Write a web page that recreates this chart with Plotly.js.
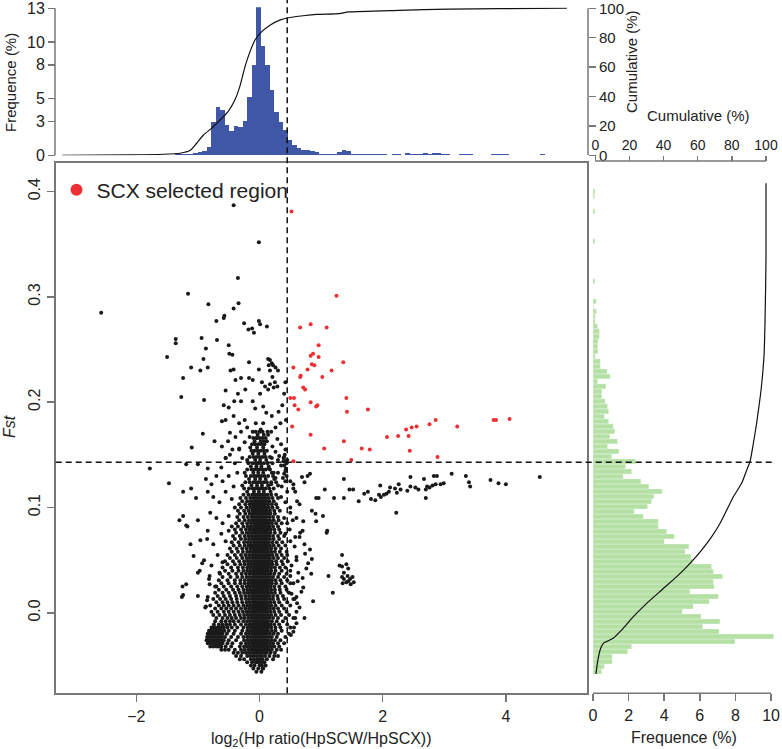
<!DOCTYPE html>
<html><head><meta charset="utf-8">
<script src="https://cdn.plot.ly/plotly-3.0.1.min.js"></script>
<style>body{margin:0;background:#fff}#chart{width:782px;height:749px}</style>
</head><body><div id="chart"></div>
<script>
// ---------------- DATA ----------------
// Top histogram of log2(Hp ratio): bins start, bin width, frequency (%) per bin
const topBinStart = -3.2;
const topBinWidth = 0.0732;
const topFreq = [0,0,0,0,0,0,0,0,0.03,0,0,0,0,0,0,0,0,0.03,0,0.03,0,0.03,0,0.06,
 0.06,0.09,0.12,0.12,0.15,0.2,0.25,0.35,0.7,2.9,4.23,4.0,2.68,2.18,2.6,2.5,3.0,5.18,7.97,13.08,
 9.66,7.97,5.76,3.85,2.9,2.2,1.36,0.9,0.65,0.5,0.45,0.38,0.25,0.15,0.12,0.1,0.1,0.3,0.45,0.4,
 0.15,0.1,0.08,0.1,0.15,0.1,0.15,0.08,0.05,0.08,0.08,0.05,0.2,0.15,0.15,0.1,0.2,0.15,0.2,0.2,
 0.1,0.08,0.05,0.05,0.1,0.1,0.08,0.03,0.03,0.03,0.03,0.1,0.1,0.08,0.1,0.05,0.03,0,0.03,0,0.03,0,
 0.08,0,0,0,0,0];
// Top cumulative curve (%)
const topCumX = [-3.20,-2.10,-1.56,-1.29,-1.13,-1.02,-0.91,-0.78,-0.64,-0.51,-0.40,-0.32,-0.235,-0.154,-0.073,0.036,0.17,0.33,0.495,0.71,0.93,1.29,1.45,2.26,3.08,3.89,4.99];
const topCumY = [0,0.3,0.7,1.4,3.2,8.2,13.8,18.3,24,29.7,37.6,46.7,60.3,70.5,78.4,84.1,88.5,91.9,93.7,94.9,95.8,96.4,97.5,98.6,99.4,99.7,100];

// Right histogram of Fst
const rightBinStart = -0.0581;
const rightBinWidth = 0.00475;
const rightFreq = [0.49,0.63,1.08,1.08,1.95,2.17,7.98,10.15,7.08,6.16,7.13,6.07,5.02,5.63,6.53,7.04,5.45,6.81,6.76,7.28,
 6.76,6.66,5.6,5.5,5.17,5.39,4.0,4.57,4.14,3.67,3.67,2.83,2.32,3.07,3.29,3.42,3.89,3.14,2.69,1.7,
 2.17,1.83,2.4,1.05,1.46,0.82,1.38,0.95,1.23,1.14,0.88,0.64,0.88,0.82,0.69,0.5,0.5,0.73,0.26,0.97,
 0.79,0.41,0.41,0.13,0.28,0.26,0.28,0.36,0.36,0.26,0.13,0.13,0.19,0.04,0.19,0,0,0,0.11,0,
 0,0,0,0,0,0,0.11,0,0,0,0,0,0.11,0,0,0.09,0.11,0];
// Right cumulative curve
const rightCumFst = [-0.0581,-0.048,-0.0353,-0.029,-0.0242,-0.0163,-0.0037,0.009,0.0217,0.0343,0.047,0.0596,0.0723,0.085,0.0976,0.110,0.123,0.1356,0.1435,0.161,0.180,0.199,0.2116,0.2432,0.275,0.338,0.408];
const rightCumPct = [0.4,1.2,2.8,4.7,10.5,15.5,22.3,30.1,38.9,47.7,55.5,62.3,68.2,73.1,77,80.8,85.7,88.7,90.6,92.6,94.5,96.1,97.1,98.8,99.4,100,100];

// Thresholds
const hpCut = 0.45;
const fstCut = 0.143;

// SCX selected region (red) points [log2 ratio, Fst]
const redPts = [[0.52,0.381],[1.25,0.301],[0.66,0.271],[0.83,0.274],[1.09,0.271],[0.96,0.254],[0.87,0.246],[0.83,0.244],
 [0.96,0.243],[1.36,0.238],[0.85,0.236],[0.89,0.235],[0.55,0.233],[0.78,0.231],[1.17,0.230],[0.67,0.225],[0.66,0.224],
 [1.02,0.224],[0.71,0.214],[0.74,0.212],[0.50,0.204],[0.56,0.204],[1.41,0.204],[0.83,0.200],[0.94,0.197],[0.92,0.196],
 [0.57,0.197],[0.63,0.193],[1.42,0.191],[1.76,0.193],[0.53,0.177],[2.86,0.183],[2.76,0.179],[2.55,0.177],[2.47,0.176],
 [2.38,0.174],[3.21,0.177],[3.80,0.183],[3.84,0.183],[4.06,0.184],[2.25,0.168],[2.07,0.167],[2.42,0.168],[0.83,0.169],
 [1.37,0.163],[1.05,0.156],[1.66,0.156],[1.79,0.155],[2.44,0.154],[1.49,0.145],[2.89,0.148],[0.55,0.144]];

// Dense core of black points: [Fst, [log2 ratios...]]
const coreRows = [
[-0.056,[-0.05,0.03]],
[-0.053,[-0.1,-0.02,0.05,0.06]],
[-0.050,[-0.14,-0.08,0.0,0.04,0.1]],
[-0.047,[-0.2,-0.12,-0.06,-0.02,0.03,0.08]],
[-0.044,[-0.32,-0.25,-0.14,-0.09,-0.04,0.0,0.05,0.12,0.22]],
[-0.041,[-0.38,-0.3,-0.2,-0.15,-0.1,-0.05,0.0,0.04,0.09,0.16,0.24,0.3]],
[-0.038,[-0.42,-0.35,-0.28,-0.22,-0.17,-0.12,-0.08,-0.04,0.0,0.04,0.08,0.12,0.18,0.25]],
[-0.035,[-0.62,-0.56,-0.5,-0.4,-0.3,-0.24,-0.18,-0.13,-0.09,-0.05,-0.01,0.03,0.07,0.11,0.15,0.2,0.28,0.35]],
[-0.032,[-0.8,-0.75,-0.7,-0.66,-0.62,-0.55,-0.46,-0.32,-0.25,-0.2,-0.15,-0.1,-0.06,-0.02,0.02,0.06,0.1,0.14,0.19,0.24,0.32]],
[-0.029,[-0.84,-0.8,-0.76,-0.72,-0.68,-0.64,-0.6,-0.52,-0.44,-0.3,-0.22,-0.17,-0.12,-0.08,-0.04,0.0,0.04,0.08,0.12,0.17,0.22,0.3,0.4]],
[-0.026,[-0.86,-0.82,-0.78,-0.74,-0.7,-0.66,-0.62,-0.58,-0.5,-0.38,-0.25,-0.19,-0.14,-0.1,-0.06,-0.02,0.02,0.06,0.1,0.14,0.19,0.25,0.34]],
[-0.023,[-0.85,-0.81,-0.77,-0.73,-0.69,-0.65,-0.61,-0.56,-0.46,-0.35,-0.26,-0.2,-0.15,-0.1,-0.06,-0.02,0.02,0.06,0.1,0.15,0.2,0.28,0.42]],
[-0.020,[-0.84,-0.8,-0.76,-0.72,-0.68,-0.64,-0.6,-0.53,-0.42,-0.3,-0.22,-0.17,-0.12,-0.08,-0.04,0.0,0.04,0.08,0.12,0.17,0.23,0.3,0.48]],
[-0.017,[-0.82,-0.78,-0.74,-0.7,-0.66,-0.62,-0.57,-0.5,-0.4,-0.28,-0.2,-0.15,-0.1,-0.06,-0.02,0.02,0.06,0.1,0.14,0.2,0.26,0.36]],
[-0.014,[-0.78,-0.73,-0.68,-0.63,-0.58,-0.52,-0.45,-0.36,-0.26,-0.19,-0.14,-0.1,-0.06,-0.02,0.02,0.06,0.1,0.14,0.19,0.26,0.34,0.5]],
[-0.011,[-0.74,-0.66,-0.6,-0.54,-0.48,-0.4,-0.3,-0.22,-0.16,-0.11,-0.07,-0.03,0.01,0.05,0.09,0.13,0.18,0.24,0.32,0.45]],
[-0.008,[-0.72,-0.62,-0.55,-0.48,-0.42,-0.34,-0.26,-0.2,-0.15,-0.1,-0.06,-0.02,0.02,0.06,0.1,0.14,0.2,0.28,0.38]],
[-0.005,[-0.7,-0.6,-0.52,-0.45,-0.38,-0.3,-0.24,-0.18,-0.13,-0.09,-0.05,-0.01,0.03,0.07,0.11,0.16,0.22,0.3,0.42,0.55]],
[-0.002,[-0.75,-0.65,-0.56,-0.48,-0.4,-0.32,-0.25,-0.19,-0.14,-0.1,-0.06,-0.02,0.02,0.06,0.1,0.14,0.19,0.26,0.35,0.48]],
[0.001,[-0.78,-0.68,-0.58,-0.5,-0.42,-0.34,-0.27,-0.21,-0.16,-0.11,-0.07,-0.03,0.01,0.05,0.09,0.13,0.18,0.24,0.32,0.44,0.6]],
[0.004,[-0.72,-0.62,-0.54,-0.46,-0.38,-0.3,-0.23,-0.17,-0.12,-0.08,-0.04,0.0,0.04,0.08,0.12,0.17,0.23,0.3,0.4]],
[0.007,[-0.8,-0.66,-0.58,-0.5,-0.42,-0.34,-0.26,-0.2,-0.15,-0.1,-0.06,-0.02,0.02,0.06,0.1,0.14,0.19,0.26,0.36,0.5]],
[0.010,[-0.7,-0.6,-0.52,-0.44,-0.36,-0.28,-0.21,-0.16,-0.11,-0.07,-0.03,0.01,0.05,0.09,0.13,0.18,0.24,0.32,0.45]],
[0.013,[-0.75,-0.64,-0.55,-0.46,-0.37,-0.29,-0.22,-0.17,-0.12,-0.08,-0.04,0.0,0.04,0.08,0.12,0.17,0.22,0.3,0.4,0.55]],
[0.016,[-0.68,-0.58,-0.48,-0.38,-0.3,-0.23,-0.17,-0.12,-0.08,-0.04,0.0,0.04,0.08,0.12,0.16,0.22,0.29,0.38]],
[0.019,[-0.72,-0.6,-0.5,-0.4,-0.32,-0.25,-0.19,-0.14,-0.1,-0.06,-0.02,0.02,0.06,0.1,0.14,0.19,0.25,0.34,0.48]],
[0.022,[-0.66,-0.54,-0.43,-0.34,-0.26,-0.2,-0.15,-0.1,-0.06,-0.02,0.02,0.06,0.1,0.14,0.19,0.25,0.33,0.44]],
[0.025,[-0.7,-0.58,-0.46,-0.36,-0.28,-0.21,-0.16,-0.11,-0.07,-0.03,0.01,0.05,0.09,0.13,0.18,0.24,0.32,0.42]],
[0.028,[-0.62,-0.5,-0.4,-0.31,-0.24,-0.18,-0.13,-0.09,-0.05,-0.01,0.03,0.07,0.11,0.15,0.2,0.27,0.36,0.5]],
[0.031,[-0.66,-0.52,-0.4,-0.31,-0.24,-0.18,-0.13,-0.09,-0.05,-0.01,0.03,0.07,0.11,0.15,0.2,0.26,0.34,0.45]],
[0.034,[-0.6,-0.47,-0.36,-0.28,-0.21,-0.16,-0.11,-0.07,-0.03,0.01,0.05,0.09,0.13,0.17,0.22,0.3,0.4]],
[0.037,[-0.64,-0.5,-0.38,-0.29,-0.22,-0.16,-0.11,-0.07,-0.03,0.01,0.05,0.09,0.13,0.18,0.24,0.32,0.44]],
[0.040,[-0.56,-0.44,-0.34,-0.26,-0.2,-0.15,-0.1,-0.06,-0.02,0.02,0.06,0.1,0.14,0.19,0.26,0.36,0.5]],
[0.043,[-0.6,-0.46,-0.35,-0.27,-0.2,-0.15,-0.1,-0.06,-0.02,0.02,0.06,0.1,0.14,0.19,0.25,0.33,0.42]],
[0.046,[-0.52,-0.4,-0.31,-0.24,-0.18,-0.13,-0.08,-0.04,0.0,0.04,0.08,0.12,0.16,0.21,0.28,0.38]],
[0.049,[-0.56,-0.43,-0.33,-0.25,-0.19,-0.14,-0.09,-0.05,-0.01,0.03,0.07,0.11,0.15,0.2,0.27,0.36,0.46]],
[0.052,[-0.48,-0.37,-0.28,-0.21,-0.16,-0.11,-0.07,-0.03,0.01,0.05,0.09,0.13,0.17,0.23,0.3,0.4]],
[0.055,[-0.52,-0.4,-0.3,-0.23,-0.17,-0.12,-0.08,-0.04,0.0,0.04,0.08,0.12,0.16,0.21,0.28,0.36]],
[0.058,[-0.45,-0.35,-0.27,-0.2,-0.15,-0.1,-0.06,-0.02,0.02,0.06,0.1,0.14,0.19,0.25,0.33,0.44]],
[0.061,[-0.48,-0.37,-0.28,-0.21,-0.15,-0.1,-0.06,-0.02,0.02,0.06,0.1,0.14,0.19,0.26,0.35]],
[0.064,[-0.42,-0.32,-0.24,-0.18,-0.13,-0.08,-0.04,0.0,0.04,0.08,0.12,0.17,0.23,0.31,0.42]],
[0.067,[-0.45,-0.34,-0.25,-0.19,-0.14,-0.09,-0.05,-0.01,0.03,0.07,0.11,0.15,0.21,0.28,0.37]],
[0.070,[-0.4,-0.3,-0.23,-0.17,-0.12,-0.08,-0.04,0.0,0.04,0.08,0.12,0.17,0.23,0.32]],
[0.073,[-0.43,-0.32,-0.24,-0.18,-0.13,-0.08,-0.04,0.0,0.04,0.08,0.12,0.16,0.22,0.3,0.4]],
[0.076,[-0.38,-0.28,-0.21,-0.16,-0.11,-0.07,-0.03,0.01,0.05,0.09,0.13,0.18,0.25,0.34]],
[0.079,[-0.4,-0.3,-0.22,-0.16,-0.11,-0.07,-0.03,0.01,0.05,0.09,0.13,0.18,0.24,0.32]],
[0.082,[-0.35,-0.26,-0.19,-0.14,-0.09,-0.05,-0.01,0.03,0.07,0.11,0.16,0.22,0.3]],
[0.085,[-0.38,-0.28,-0.2,-0.14,-0.09,-0.05,-0.01,0.03,0.07,0.11,0.15,0.2,0.27,0.36]],
[0.088,[-0.33,-0.24,-0.17,-0.12,-0.08,-0.04,0.0,0.04,0.08,0.12,0.17,0.23,0.31]],
[0.091,[-0.36,-0.26,-0.19,-0.13,-0.09,-0.05,-0.01,0.03,0.07,0.11,0.16,0.22,0.3]],
[0.094,[-0.32,-0.23,-0.16,-0.11,-0.07,-0.03,0.01,0.05,0.09,0.13,0.18,0.25]],
[0.097,[-0.35,-0.25,-0.18,-0.12,-0.08,-0.04,0.0,0.04,0.08,0.12,0.17,0.24,0.33]],
[0.100,[-0.3,-0.21,-0.15,-0.1,-0.06,-0.02,0.02,0.06,0.1,0.15,0.21,0.29]],
[0.103,[-0.33,-0.23,-0.16,-0.11,-0.07,-0.03,0.01,0.05,0.09,0.14,0.2,0.27]],
[0.106,[-0.28,-0.2,-0.14,-0.09,-0.05,-0.01,0.03,0.07,0.11,0.16,0.23]],
[0.109,[-0.31,-0.22,-0.15,-0.1,-0.06,-0.02,0.02,0.06,0.1,0.15,0.21,0.3]],
[0.112,[-0.26,-0.18,-0.12,-0.08,-0.04,0.0,0.04,0.08,0.13,0.19,0.27]],
[0.115,[-0.2,-0.09,-0.01,0.07,0.18]],
[0.118,[-0.25,-0.17,-0.11,-0.07,-0.03,0.01,0.05,0.1,0.16,0.23]],
[0.121,[-0.28,-0.13,-0.04,0.04,0.14,0.3]],
[0.124,[-0.23,-0.16,-0.1,-0.06,-0.02,0.02,0.07,0.12,0.19,0.27]],
[0.127,[-0.17,-0.07,0.01,0.1,0.24]],
[0.130,[-0.22,-0.14,-0.09,-0.05,-0.01,0.03,0.08,0.14,0.22]],
[0.133,[-0.24,-0.1,-0.02,0.06,0.2]],
[0.136,[-0.2,-0.13,-0.08,-0.04,0.0,0.05,0.1,0.17]],
[0.139,[-0.14,-0.05,0.03,0.15]],
[0.142,[-0.18,-0.11,-0.06,-0.02,0.02,0.07,0.13,0.21]],
[0.145,[-0.2,-0.07,0.01,0.11]],
[0.148,[-0.16,-0.1,-0.05,0.0,0.05,0.1,0.17]],
[0.151,[-0.11,-0.02,0.08]],
[0.154,[-0.13,-0.08,-0.03,0.02,0.07,0.12]],
[0.157,[-0.15,-0.04,0.06]],
[0.160,[-0.12,-0.07,-0.02,0.03,0.08]],
[0.163,[-0.08,0.02,0.12]],
[0.166,[-0.1,-0.05,0.0,0.05,0.1]],
[0.169,[-0.03,0.07]],
[0.172,[-0.06,0.0,0.05,0.13]]
];

// Scattered black points around the core [log2 ratio, Fst]
const haloPts = [[-0.48,0.15],[-0.4,0.142],[-0.33,0.155],[-0.28,0.147],[-0.55,0.147],[-0.62,0.138],[0.3,0.145],[0.35,0.14],
 [0.4,0.148],[0.42,0.135],[0.44,0.142],[0.38,0.128],[0.42,0.125],[0.4,0.132],[-0.7,0.13],[-0.6,0.125],[-0.5,0.13],
 [-0.42,0.12],[-0.36,0.133],[-0.78,0.122],[0.3,0.133],[0.36,0.12],[0.5,0.125],[0.55,0.118],[-0.75,0.11],[-0.65,0.105],
 [-0.55,0.115],[-0.45,0.108],[-0.4,0.1],[0.35,0.11],[0.42,0.105],[0.5,0.1],[0.45,0.115],[-0.8,0.095],[-0.7,0.09],
 [-0.6,0.085],[-0.5,0.092],[-0.45,0.082],[0.4,0.09],[0.45,0.085],[0.5,0.095],[0.6,0.09],[-0.85,0.07],[-0.75,0.065],
 [-0.62,0.075],[-0.55,0.068],[-0.5,0.078],[0.42,0.075],[0.5,0.068],[0.58,0.072],[0.7,0.078],[-0.9,0.05],[-0.78,0.045],
 [-0.68,0.055],[-0.6,0.048],[0.45,0.055],[0.52,0.045],[0.6,0.05],[-0.82,0.032],[-0.72,0.025],[-0.65,0.038],[0.5,0.035],
 [0.55,0.028],[0.62,0.03],[-0.85,0.012],[-0.88,0.005],[0.6,0.015],[0.65,0.005],[0.52,0.018],[0.6,-0.01],[0.55,-0.018],
 [0.58,-0.005],[0.4,0.14],[0.43,0.137],[0.45,0.145],[0.41,0.15],[0.44,0.13],[0.39,0.144]];

const upperPts = [[-0.17,0.238],[-0.01,0.231],[0.14,0.241],[0.17,0.240],[0.2,0.237],[0.22,0.235],[0.15,0.235],[0.26,0.233],
 [0.3,0.23],[0.17,0.23],[0.21,0.224],[0.25,0.219],[0.29,0.215],[0.23,0.214],[0.17,0.217],[0.14,0.212],[-0.42,0.231],
 [-0.47,0.23],[-0.39,0.221],[-0.55,0.211],[-0.3,0.223],[-0.17,0.223],[-0.11,0.221],[-0.23,0.212],[-0.35,0.208],
 [-0.41,0.201],[-0.58,0.197],[-0.5,0.195],[-0.61,0.182],[-0.55,0.183],[-0.42,0.187],[-0.33,0.18],[-0.24,0.183],
 [-0.11,0.201],[-0.07,0.194],[0.06,0.196],[0.11,0.19],[0.2,0.187],[0.31,0.191],[0.37,0.197],[0.42,0.219],[0.4,0.208],
 [0.43,0.183],[0.34,0.18],[0.26,0.176],[0.19,0.172],[-0.48,0.171],[-0.39,0.167],[-0.3,0.172],[-0.2,0.176],[-0.51,0.163],
 [-0.61,0.158],[-0.44,0.155],[-0.55,0.147],[-0.33,0.156],[-0.24,0.162],[0.29,0.165],[0.35,0.16],[0.42,0.155],
 [0.39,0.147],[0.42,0.144],[0.32,0.149],[0.21,0.158],[0.26,0.153],[0.2,0.147],[0.04,0.219],[0.09,0.215],[0.01,0.208],
 [-0.3,0.201],[-0.06,0.18],[0.06,0.18],[0.02,0.174],[-0.11,0.172],[-0.16,0.167],[0.14,0.169],[0.07,0.163],[-0.04,0.166],
 [0.15,0.137],[0.23,0.133],[0.26,0.128],[0.19,0.122]];

const leftPts = [[-2.57,0.285],[-0.42,0.387],[-0.01,0.352],[-0.35,0.318],[-1.16,0.303],[-0.34,0.294],[-0.83,0.293],
 [-0.42,0.289],[-0.57,0.282],[-0.58,0.280],[-0.70,0.277],[-0.25,0.275],[-0.18,0.269],[-0.09,0.266],[-0.01,0.277],
 [0.01,0.274],[0.12,0.272],[-0.12,0.270],[-0.94,0.261],[-1.36,0.260],[-1.36,0.256],[-0.69,0.259],[-0.87,0.251],
 [-0.50,0.254],[-1.50,0.243],[-0.49,0.246],[-0.44,0.245],[-0.91,0.241],[-1.11,0.233],[-0.84,0.233],[-0.96,0.230],
 [-1.24,0.223],[-1.27,0.205],[-0.90,0.202],[-0.92,0.170],[-1.10,0.157],[-0.73,0.163],[-1.78,0.137],[-1.47,0.123],
 [-1.24,0.115],[-1.19,0.141],[-1.00,0.141],[-0.84,0.137],[-1.03,0.109],[-0.84,0.115],[-0.87,0.127],[-1.11,0.118],
 [-1.30,0.088],[-1.24,0.092],[-1.19,0.083],[-1.17,0.082],[-1.00,0.088],[-1.12,0.065],[-1.07,0.054],[-0.96,0.069],
 [-0.84,0.078],[-0.93,0.047],[-0.97,0.040],[-1.00,0.038],[-1.25,0.025],[-1.19,0.027],[-1.24,0.017],[-1.26,0.015],
 [-1.00,0.016],[-0.81,0.027],[-0.81,0.035],[-0.84,0.015],[-0.87,0.006]];

const rightPts = [[4.55,0.129],[3.75,0.126],[3.88,0.123],[4.00,0.122],[3.35,0.130],[3.40,0.124],[3.42,0.120],[3.12,0.132],
 [2.99,0.123],[2.94,0.122],[2.88,0.130],[2.83,0.130],[2.86,0.122],[2.81,0.121],[2.76,0.119],[2.72,0.120],[2.70,0.117],
 [2.67,0.127],[2.58,0.117],[2.70,0.109],[2.53,0.119],[2.45,0.120],[2.40,0.116],[2.29,0.117],[2.45,0.129],[2.26,0.122],
 [2.20,0.118],[2.23,0.114],[2.10,0.115],[2.12,0.119],[2.06,0.113],[2.02,0.112],[1.97,0.110],[1.94,0.112],[1.96,0.121],
 [1.88,0.107],[1.81,0.108],[1.76,0.115],[1.70,0.113],[1.61,0.106],[1.52,0.117],[1.46,0.117],[2.22,0.095],[1.37,0.127],
 [1.37,0.109],[1.21,0.109],[1.06,0.117],[0.96,0.109],[0.92,0.109],[0.85,0.097],[0.91,0.094],[1.03,0.092],[0.92,0.087],
 [1.10,0.078],[1.09,0.076],[0.69,0.129],[0.73,0.124],[0.82,0.132],[0.78,0.130],
 [1.34,0.055],[1.30,0.045],[1.34,0.044],[1.41,0.046],[1.44,0.042],[1.37,0.038],[1.34,0.034],[1.37,0.032],[1.43,0.035],
 [1.47,0.032],[1.51,0.034],[1.41,0.029],[1.48,0.027],[1.53,0.029],[1.35,0.028],[1.44,0.030],[1.12,0.035],[1.19,0.019],
 [0.65,0.103],[0.61,0.106],[0.65,0.072],[0.73,0.065],[0.82,0.060],[0.74,0.056],[0.85,0.051],[0.79,0.047],[0.76,0.042],
 [0.84,0.037],[0.70,0.033],[0.71,0.024],[0.87,0.011],[0.73,-0.005],[0.51,-0.021],[0.56,-0.014],[0.61,0.009],[0.57,0.013],
 [0.68,0.020],[0.63,0.038],[0.60,0.053],[0.57,0.063],[0.66,0.076],[0.71,0.087],[0.54,0.088],[0.49,0.079],[0.58,0.115],
 [0.55,0.122]];

// ---------------- BUILD ----------------
const W = 782, H = 749;
const px = v => v / W;
const py = v => 1 - v / H;

const blackX = [], blackY = [];
coreRows.forEach(r => r[1].forEach(x => { blackX.push(x); blackY.push(r[0]); }));
[haloPts, upperPts, leftPts, rightPts].forEach(arr => arr.forEach(p => { blackX.push(p[0]); blackY.push(p[1]); }));

const topCenters = topFreq.map((_, k) => topBinStart + topBinWidth * (k + 0.5));
const rightCenters = rightFreq.map((_, k) => rightBinStart + rightBinWidth * (k + 0.5));

const FONT = 'Liberation Sans, Arial, Helvetica, sans-serif';
const AX = '#777';
const TXT = '#222';

const traces = [
  { type: 'bar', orientation: 'h', x: rightFreq, y: rightCenters, width: rightBinWidth,
    xaxis: 'x3', yaxis: 'y', marker: { color: '#b4e0a4', line: { color: 'rgba(255,255,255,0.55)', width: 0.6 } },
    showlegend: false, hoverinfo: 'skip' },
  { type: 'scatter', mode: 'lines', x: rightCumPct, y: rightCumFst, xaxis: 'x4', yaxis: 'y',
    line: { color: '#111', width: 1.2, shape: 'spline', smoothing: 0.6 }, showlegend: false, hoverinfo: 'skip' },
  { type: 'bar', x: topCenters, y: topFreq, width: topBinWidth, xaxis: 'x2', yaxis: 'y2',
    marker: { color: '#3f57a6', line: { width: 0 } }, showlegend: false, hoverinfo: 'skip' },
  { type: 'scatter', mode: 'lines', x: topCumX, y: topCumY, xaxis: 'x2', yaxis: 'y3',
    line: { color: '#111', width: 1.2, shape: 'spline', smoothing: 0.6 }, showlegend: false, hoverinfo: 'skip' },
  { type: 'scatter', mode: 'markers', x: blackX, y: blackY, xaxis: 'x', yaxis: 'y',
    marker: { color: '#1a1a1a', size: 4 }, showlegend: false, hoverinfo: 'skip' },
  { type: 'scatter', mode: 'markers', x: redPts.map(p => p[0]), y: redPts.map(p => p[1]), xaxis: 'x', yaxis: 'y',
    marker: { color: '#ee3035', size: 4 }, name: 'SCX selected region', showlegend: true, hoverinfo: 'skip' }
];

const tickBase = { ticks: 'outside', ticklen: 7, tickwidth: 1.5, tickcolor: AX, showgrid: false, zeroline: false,
  ticklabeloverflow: 'allow', tickfont: { family: FONT, size: 16, color: TXT } };

const mainXRange = [-3.3084, 5.3166];
const topMax = 13.1;
const layout = {
  width: W, height: H, margin: { l: 0, r: 0, t: 0, b: 0 },
  paper_bgcolor: '#fff', plot_bgcolor: 'rgba(0,0,0,0)',
  font: { family: FONT, size: 14, color: TXT },
  bargap: 0, barmode: 'overlay',
  showlegend: true,
  legend: { x: px(56.5), y: py(190), xanchor: 'left', yanchor: 'middle', itemsizing: 'constant',
    font: { family: FONT, size: 21, color: TXT }, bgcolor: 'rgba(0,0,0,0)', borderwidth: 0 },
  xaxis: Object.assign({}, tickBase, { domain: [px(55.7), px(587)], range: mainXRange, anchor: 'y',
    tickvals: [-2, 0, 2, 4], ticktext: ['−2', '0', '2', '4'], showline: true, mirror: true, linecolor: AX, linewidth: 2 }),
  yaxis: Object.assign({}, tickBase, { domain: [py(693.3), py(163.3)], range: [-0.07645, 0.42687], anchor: 'x',
    tickvals: [0, 0.1, 0.2, 0.3, 0.4], ticktext: ['0.0', '0.1', '0.2', '0.3', '0.4'], tickangle: -90,
    showline: true, mirror: true, linecolor: AX, linewidth: 2 }),
  xaxis2: { domain: [px(55.7), px(587)], range: mainXRange, anchor: 'y2', visible: false, showgrid: false, zeroline: false },
  yaxis2: Object.assign({}, tickBase, { domain: [py(155.3), py(155.3 - topMax * 11.31)], range: [0, topMax], anchor: 'free', position: px(55),
    tickvals: [0, 3, 5, 8, 10, 13], showline: false }),
  yaxis3: Object.assign({}, tickBase, { overlaying: 'y2', side: 'right', anchor: 'free', position: px(588), range: [0, topMax / 13 * 100],
    tickvals: [0, 20, 40, 60, 80, 100], showline: false, tickfont: { family: FONT, size: 15, color: TXT } }),
  xaxis3: Object.assign({}, tickBase, { domain: [px(593), px(774.6)], range: [0, 10.2], anchor: 'y',
    tickvals: [0, 2, 4, 6, 8, 10], showline: false }),
  xaxis4: Object.assign({}, tickBase, { overlaying: 'x3', side: 'top', anchor: 'free', position: py(161),
    range: [-1.347, 105.03], tickvals: [0, 20, 40, 60, 80, 100], showline: false, ticklen: 5,
    tickfont: { family: FONT, size: 14, color: TXT } }),
  shapes: [
    { type: 'line', xref: 'paper', yref: 'y2', x0: px(55), x1: px(55), y0: 0, y1: 13, line: { color: AX, width: 1.5 } },
    { type: 'line', xref: 'paper', yref: 'y3', x0: px(588), x1: px(588), y0: 0, y1: 100, line: { color: AX, width: 1.5 } },
    { type: 'line', xref: 'x3', yref: 'paper', x0: 0, x1: 10, y0: py(693.3), y1: py(693.3), line: { color: AX, width: 1.5 } },
    { type: 'line', xref: 'x4', yref: 'paper', x0: 0, x1: 100, y0: py(161), y1: py(161), line: { color: AX, width: 1.5 } },
    { type: 'line', xref: 'x', yref: 'paper', x0: hpCut, x1: hpCut, y0: py(693.3), y1: 1, line: { color: '#111', width: 1.5, dash: '6px,4px' } },
    { type: 'line', xref: 'paper', yref: 'y', x0: px(55.7), x1: px(772), y0: fstCut, y1: fstCut, line: { color: '#111', width: 1.5, dash: '6px,4px' } }
  ],
  annotations: [
    { text: 'Frequence (%)', xref: 'paper', yref: 'paper', x: px(10), y: py(83), xanchor: 'center', yanchor: 'middle', textangle: -90, showarrow: false, font: { size: 15, color: TXT } },
    { text: 'Cumulative (%)', xref: 'paper', yref: 'paper', x: px(632), y: py(62), xanchor: 'center', yanchor: 'middle', textangle: -90, showarrow: false, font: { size: 15, color: TXT } },
    { text: 'Cumulative (%)', xref: 'paper', yref: 'paper', x: px(698), y: py(116), xanchor: 'center', yanchor: 'middle', showarrow: false, font: { size: 15, color: TXT } },
    { text: '<i>Fst</i>', xref: 'paper', yref: 'paper', x: px(10), y: py(427), xanchor: 'center', yanchor: 'middle', textangle: -90, showarrow: false, font: { size: 16, color: TXT } },
    { text: 'log<sub>2</sub>(Hp ratio(HpSCW/HpSCX))', xref: 'paper', yref: 'paper', x: px(321), y: py(728), xanchor: 'center', yanchor: 'top', showarrow: false, font: { size: 16, color: TXT } },
    { text: 'Frequence (%)', xref: 'paper', yref: 'paper', x: px(684), y: py(737), xanchor: 'center', yanchor: 'middle', showarrow: false, font: { size: 16, color: TXT } }
  ]
};

Plotly.newPlot('chart', traces, layout, { staticPlot: true, displayModeBar: false });
</script>
</body></html>
